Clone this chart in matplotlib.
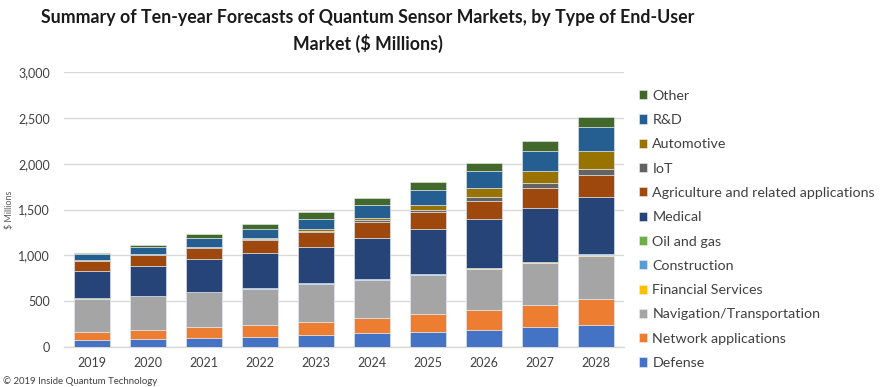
import numpy
import matplotlib
matplotlib.use('Agg')
import matplotlib.pyplot
from matplotlib.ticker import FuncFormatter

years = ['2019', '2020', '2021', '2022', '2023', '2024', '2025', '2026', '2027', '2028']

# $ millions per end-user market, stacked bottom to top
defense = [76, 87, 102, 113, 131, 149, 167, 185, 215, 240]
network = [90, 98, 113, 127, 145, 164, 190, 219, 243, 280]
navigation = [360, 370, 383, 393, 411, 416, 425, 446, 456, 475]
financial = [2, 3, 3, 4, 5, 6, 8, 10, 11, 13]
construction = [1, 1, 1, 2, 2, 2, 3, 3, 4, 4]
oil_gas = [1, 1, 1, 1, 1, 2, 2, 2, 2, 3]
medical = [300, 327, 353, 382, 400, 447, 488, 531, 582, 618]
agriculture = [110, 120, 127, 145, 157, 181, 189, 197, 218, 243]
iot = [3, 3, 4, 6, 10, 14, 27, 47, 55, 66]
automotive = [4, 5, 7, 13, 23, 30, 55, 91, 134, 200]
rnd = [65, 73, 92, 98, 112, 138, 160, 189, 222, 262]
other = [15, 28, 43, 62, 75, 80, 84, 91, 105, 109]

series = [
	('Defense', defense, '#4472C4'),
	('Network applications', network, '#ED7D31'),
	('Navigation/Transportation', navigation, '#A5A5A5'),
	('Financial Services', financial, '#FFC000'),
	('Construction', construction, '#5B9BD5'),
	('Oil and gas', oil_gas, '#70AD47'),
	('Medical', medical, '#264478'),
	('Agriculture and related applications', agriculture, '#9E480E'),
	('IoT', iot, '#636363'),
	('Automotive', automotive, '#997300'),
	('R&D', rnd, '#255E91'),
	('Other', other, '#43682B'),
]

FONT = 'Lato'


def draw_bars(ax):
	x = numpy.arange(len(years))
	bottom = numpy.zeros(len(years))
	handles = []
	for name, values, color in series:
		values = numpy.array(values, dtype=float)
		h = ax.bar(x, values, 0.64, bottom=bottom, color=color, label=name,
			edgecolor='#E8EEF6', linewidth=0.4, zorder=3)
		handles.append(h)
		bottom += values
	return handles


def style_axes(ax):
	ax.set_xlim(-0.5, len(years) - 0.5)
	ax.set_ylim(0, 3000)
	ax.set_yticks(numpy.arange(0, 3001, 500))
	ax.yaxis.set_major_formatter(FuncFormatter(lambda v, p: '{:,.0f}'.format(v)))
	ax.set_xticks(numpy.arange(len(years)))
	ax.set_xticklabels(years)
	ax.grid(axis='y', color='#D9D9D9', linewidth=1.0, zorder=0)
	for side in ['top', 'right', 'left']:
		ax.spines[side].set_visible(False)
	ax.spines['bottom'].set_color('#D9D9D9')
	ax.spines['bottom'].set_linewidth(1.0)
	ax.tick_params(axis='both', length=0, labelsize=9, colors='#404040', labelfontfamily=FONT)
	ax.tick_params(axis='y', pad=10)
	ax.tick_params(axis='x', pad=7)
	ax.set_ylabel('$ Millions', fontsize=6.5, color='#595959', family=FONT, labelpad=3)


def main():
	fig = matplotlib.pyplot.figure(figsize=(8.85, 3.87), dpi=100)
	ax = fig.add_axes([64 / 885, 1 - 347 / 387, 560 / 885, 275 / 387])
	handles = draw_bars(ax)
	style_axes(ax)

	fig.text(368 / 885, 1 - 18 / 387, 'Summary of Ten-year Forecasts of Quantum Sensor Markets, by Type of End-User',
		ha='center', va='center', fontsize=12.8, fontweight='bold', family=FONT, color='#1A1A1A')
	fig.text(368 / 885, 1 - 43 / 387, 'Market ($ Millions)',
		ha='center', va='center', fontsize=12.8, fontweight='bold', family=FONT, color='#1A1A1A')

	leg = fig.legend(handles[::-1], [s[0] for s in series[::-1]], loc='upper left',
		bbox_to_anchor=(633 / 885, 1 - 84 / 387), frameon=False,
		prop={'family': FONT, 'size': 10.3}, labelspacing=0.86,
		handlelength=0.6, handleheight=0.6, handletextpad=0.35, borderaxespad=0)
	for t in leg.get_texts():
		t.set_color('#404040')

	fig.text(3 / 885, 1 - 381 / 387, '\u00a9 2019 Inside Quantum Technology',
		ha='left', va='center', fontsize=6.9, family=FONT, color='#404040')

	fig.savefig('out.png', dpi=100)


if __name__ == '__main__':
	main()
